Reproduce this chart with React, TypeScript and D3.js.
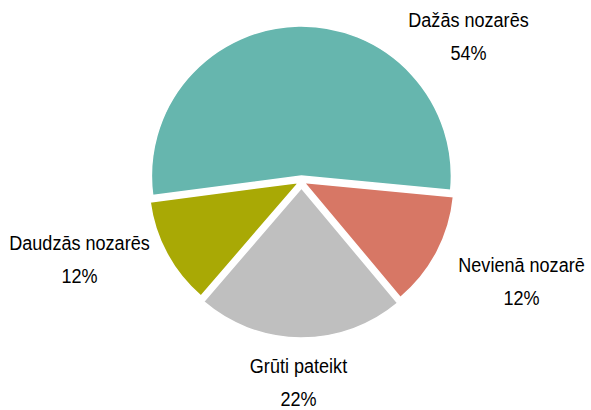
import React from "react";
import * as d3 from "d3";

const categories = ["Dažās nozarēs", "Nevienā nozarē", "Grūti pateikt", "Daudzās nozarēs"];
const values = [53.6, 12.4, 22.4, 11.6];
const percentLabels = ["54%", "12%", "22%", "12%"];

const COLORS = ["#66B6AE", "#D77765", "#BFBFBF", "#A9A905"];
const EXPLODE = [5, 3, 7, 3];
// label anchors relative to pie centre (dx, dy of first line centre baseline)
const LABEL_OFFSETS: [number, number][] = [
  [167, -154],
  [220, 91],
  [-3, 192],
  [-222, 69],
];

const W = 591;
const H = 410;
const CX = 301.5;
const CY = 181;
const R = 150;
const START = (-97.5 * Math.PI) / 180;

export default function App() {
  const pie = d3
    .pie<number>()
    .sort(null)
    .value((d) => d)
    .startAngle(START)
    .endAngle(START + 2 * Math.PI);
  const arcs = pie(values);
  const arcGen = d3.arc<d3.PieArcDatum<number>>().innerRadius(0).outerRadius(R);

  return (
    <svg width={W} height={H} style={{ position: "absolute", left: 0, top: 0 }}>
      <rect width={W} height={H} fill="#fff" />
      <g transform={`translate(${CX},${CY})`}>
        {arcs.map((a, i) => {
          const mid = (a.startAngle + a.endAngle) / 2;
          const dx = Math.sin(mid) * EXPLODE[i];
          const dy = -Math.cos(mid) * EXPLODE[i];
          return (
            <path
              key={i}
              d={arcGen(a) || ""}
              transform={`translate(${dx},${dy})`}
              fill={COLORS[i]}
              stroke="#fff"
              strokeWidth={1.5}
            />
          );
        })}
        {categories.map((c, i) => {
          const [lx, ly] = LABEL_OFFSETS[i];
          return (
            <g key={c} transform={`translate(${lx},${ly}) scale(0.86,1)`} fontFamily="'Liberation Sans', Arial, sans-serif" fontSize={21} fill="#000" textAnchor="middle">
              <text x={0} y={0}>{c}</text>
              <text x={0} y={33}>{percentLabels[i]}</text>
            </g>
          );
        })}
      </g>
    </svg>
  );
}
